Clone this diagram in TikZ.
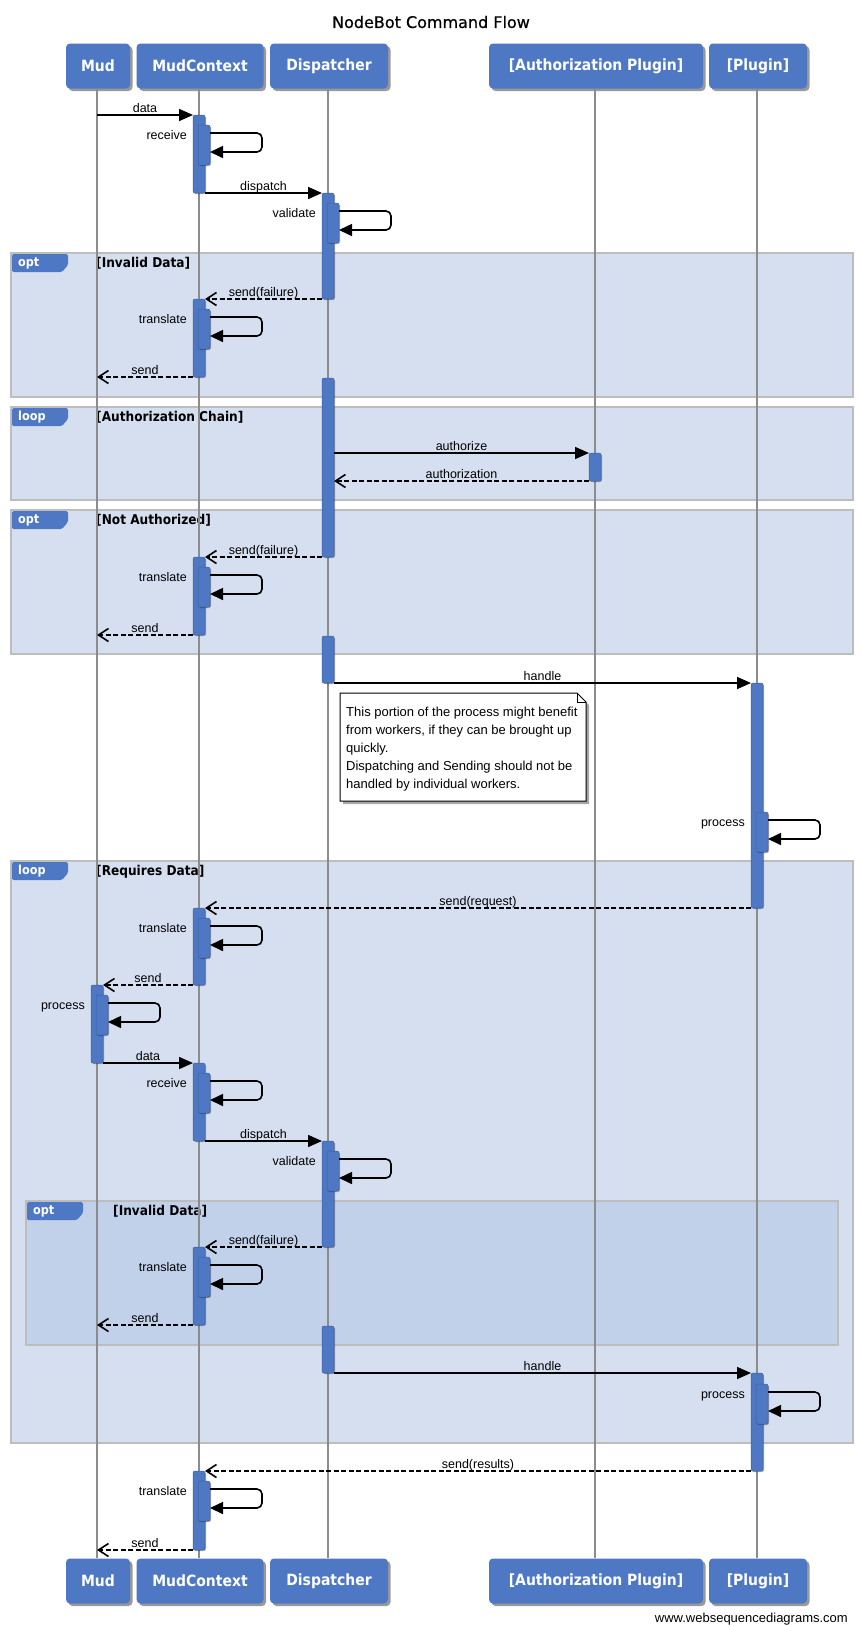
\documentclass[tikz,border=0pt]{standalone}
\usepackage{fontspec}
\setmainfont{Liberation Sans}
\newfontfamily\dvfont[FakeStretch=0.9]{DejaVu Sans}
\newfontfamily\dvtitle[FakeBold=0.5]{DejaVu Sans}
\usetikzlibrary{arrows.meta,shadows,calc}

\definecolor{wsdblue}{HTML}{4E78C3}
\definecolor{fragfill}{HTML}{D6DFF0}
\definecolor{fragfillinner}{HTML}{C2D1EA}
\definecolor{fragline}{HTML}{BDBDBD}
\definecolor{lifegray}{HTML}{8C8C8C}

\tikzset{
  participant/.style={rectangle, rounded corners=4pt, fill=wsdblue, text=white,
    font=\dvfont\bfseries\fontsize{15.5}{18}\selectfont, minimum height=45pt, inner sep=0pt,
    drop shadow={shadow xshift=2.5pt, shadow yshift=-2.5pt, opacity=0.4, fill=black}},
  lifeline/.style={draw=lifegray, line width=1.5pt},
  actbar/.style={fill=wsdblue, draw=wsdblue!80!black, line width=0.5pt, rounded corners=2pt,
    drop shadow={shadow xshift=1pt, shadow yshift=-1pt, opacity=0.3, fill=black}},
  sync/.style={line width=1.6pt, -{Triangle[length=14pt,width=12pt]}},
  reply/.style={line width=1.6pt, dash pattern=on 5pt off 2.5pt,
    -{Straight Barb[length=10pt,width=13pt]}},
  selfarrow/.style={line width=1.6pt, rounded corners=5pt, -{Triangle[length=13pt,width=12pt]}},
  msglabel/.style={font=\fontsize{12.5}{15}\selectfont, inner sep=0pt},
  fragbox/.style={draw=fragline, line width=2pt},
  fragtag/.style={fill=wsdblue, rounded corners=1.5pt},
  tagtext/.style={font=\dvfont\bfseries\fontsize{12.5}{14}\selectfont, text=white, inner sep=0pt},
  guardtext/.style={font=\dvfont\bfseries\fontsize{13.5}{15}\selectfont, inner sep=0pt},
  notebox/.style={fill=white, draw=black, line width=1pt},
  notetext/.style={font=\fontsize{13}{18}\selectfont, align=left, inner sep=0pt, anchor=north west},
}

% lifeline x positions
\def\xMud{97}
\def\xCtx{199}
\def\xDisp{328}
\def\xAuth{595}
\def\xPlug{757}

% combined fragment: name, x0, y0, x1, y1, fill, operator, guard, guard x
\newcommand\seqframe[9]{%
  \path[fragbox, fill=#6] (#2,#3) rectangle (#4,#5);
  \path[fragtag] (#2+1,#3+1) -- (#2+57,#3+1) -- (#2+57,#3+12) -- (#2+51,#3+19) -- (#2+1,#3+19) -- cycle;
  \node[tagtext, anchor=base west] (#1-op) at (#2+7,#3+13.5) {#7};
  \node[guardtext, anchor=base west] (#1-guard) at (#9,#3+14.5) {#8};
}

% activation bar: lifeline x, top, bottom
\newcommand\activation[3]{%
  \path[actbar] (#1-6,#2) rectangle (#1+6,#3);
}

% message: name, style, x from, x to, y, label
\newcommand\seqmsg[6]{%
  \coordinate (#1-a) at (#3,#5);
  \coordinate (#1-b) at (#4,#5);
  \draw[#2] (#1-a) -- node[msglabel, midway, anchor=base, yshift=3pt] (#1-l) {#6} (#1-b);
}

% self call with nested activation: name, lifeline x, top of nested bar, label
\newcommand\selfcall[4]{%
  \path[actbar] (#2-1,#3) rectangle (#2+11,#3+40);
  \coordinate (#1-a) at (#2+11,#3+8);
  \coordinate (#1-b) at (#2+63,#3+8);
  \coordinate (#1-c) at (#2+63,#3+27);
  \coordinate (#1-d) at (#2+11,#3+27);
  \draw[selfarrow] (#1-a) -- (#1-b) -- (#1-c) -- (#1-d);
  \node[msglabel, anchor=base east] (#1-l) at (#2-12,#3+14) {#4};
}

\begin{document}
\begin{tikzpicture}[x=1pt,y=-1pt]
\useasboundingbox (0,0) rectangle (862,1626);
\fill[white] (0,0) rectangle (862,1626);

% title
\node[font=\dvtitle\fontsize{16}{19}\selectfont, inner sep=0pt] (title) at (431,22) {NodeBot Command Flow};

% combined fragments
\seqframe{f1}{11}{253}{853}{397}{fragfill}{opt}{[Invalid Data]}{96}
\seqframe{f2}{11}{407}{853}{500}{fragfill}{loop}{[Authorization Chain]}{96}
\seqframe{f3}{11}{510}{853}{654}{fragfill}{opt}{[Not Authorized]}{96}
\seqframe{f4}{11}{861}{853}{1443}{fragfill}{loop}{[Requires Data]}{96}
\seqframe{f5}{26}{1201}{838}{1345}{fragfillinner}{opt}{[Invalid Data]}{113}

% participants, top and bottom
\foreach \nm/\x/\w/\txt in {mud/98/64/Mud, ctx/200/127/MudContext, disp/329/118/Dispatcher,
    auth/596/214/{[Authorization Plugin]}, plug/758/98/{[Plugin]}} {
  \node[participant, minimum width=\w pt] (\nm T) at (\x,66) {\txt};
  \node[participant, minimum width=\w pt] (\nm B) at (\x,1581) {\txt};
}

% lifelines
\foreach \nm in {mud,ctx,disp,auth,plug}
  \draw[lifeline] ([xshift=-1pt]\nm T.south) -- ([xshift=-1pt]\nm B.north);

% activations
\activation{\xCtx}{115}{193}
\activation{\xDisp}{193}{299}
\activation{\xCtx}{299}{377}
\activation{\xDisp}{378}{557}
\activation{\xAuth}{453}{481}
\activation{\xCtx}{557}{635}
\activation{\xDisp}{636}{683}
\activation{\xPlug}{683}{908}
\activation{\xCtx}{908}{985}
\activation{\xMud}{985}{1063}
\activation{\xCtx}{1063}{1141}
\activation{\xDisp}{1141}{1247}
\activation{\xCtx}{1247}{1325}
\activation{\xDisp}{1326}{1373}
\activation{\xPlug}{1373}{1471}
\activation{\xCtx}{1471}{1550}

% self calls
\selfcall{s1}{\xCtx}{125}{receive}
\selfcall{s2}{\xDisp}{203}{validate}
\selfcall{s3}{\xCtx}{309}{translate}
\selfcall{s4}{\xCtx}{567}{translate}
\selfcall{s5}{\xPlug}{812}{process}
\selfcall{s6}{\xCtx}{918}{translate}
\selfcall{s7}{\xMud}{995}{process}
\selfcall{s8}{\xCtx}{1073}{receive}
\selfcall{s9}{\xDisp}{1151}{validate}
\selfcall{s10}{\xCtx}{1257}{translate}
\selfcall{s11}{\xPlug}{1384}{process}
\selfcall{s12}{\xCtx}{1481}{translate}

% messages
\seqmsg{m1}{sync}{\xMud}{\xCtx-6}{115}{data}
\seqmsg{m2}{sync}{\xCtx+6}{\xDisp-6}{193}{dispatch}
\seqmsg{m3}{reply}{\xDisp-6}{\xCtx+6}{299}{send(failure)}
\seqmsg{m4}{reply}{\xCtx-6}{\xMud}{377}{send}
\seqmsg{m5}{sync}{\xDisp+6}{\xAuth-6}{453}{authorize}
\seqmsg{m6}{reply}{\xAuth-6}{\xDisp+6}{481}{authorization}
\seqmsg{m7}{reply}{\xDisp-6}{\xCtx+6}{557}{send(failure)}
\seqmsg{m8}{reply}{\xCtx-6}{\xMud}{635}{send}
\seqmsg{m9}{sync}{\xDisp+6}{\xPlug-6}{683}{handle}
\seqmsg{m10}{reply}{\xPlug-6}{\xCtx+6}{908}{send(request)}
\seqmsg{m11}{reply}{\xCtx-6}{\xMud+6}{985}{send}
\seqmsg{m12}{sync}{\xMud+6}{\xCtx-6}{1063}{data}
\seqmsg{m13}{sync}{\xCtx+6}{\xDisp-6}{1141}{dispatch}
\seqmsg{m14}{reply}{\xDisp-6}{\xCtx+6}{1247}{send(failure)}
\seqmsg{m15}{reply}{\xCtx-6}{\xMud}{1325}{send}
\seqmsg{m16}{sync}{\xDisp+6}{\xPlug-6}{1373}{handle}
\seqmsg{m17}{reply}{\xPlug-6}{\xCtx+6}{1471}{send(results)}
\seqmsg{m18}{reply}{\xCtx-6}{\xMud}{1550}{send}

% note over Dispatcher .. Authorization Plugin
\fill[black, opacity=0.35] (343,696) -- (580,696) -- (589,705) -- (589,804) -- (343,804) -- cycle;
\path[notebox] (340,693) -- (577,693) -- (586,702) -- (586,801) -- (340,801) -- cycle;
\draw[line width=0.6pt] (577,693) -- (577,702) -- (586,702);
\node[notetext] (note) at (346,707) {This portion of the process might benefit\\
from workers, if they can be brought up\\
quickly.\\
Dispatching and Sending should not be\\
handled by individual workers.};

% footer
\node[font=\fontsize{13}{15}\selectfont, inner sep=0pt, anchor=base east] (footer) at (848,1622) {www.websequencediagrams.com};
\end{tikzpicture}
\end{document}
